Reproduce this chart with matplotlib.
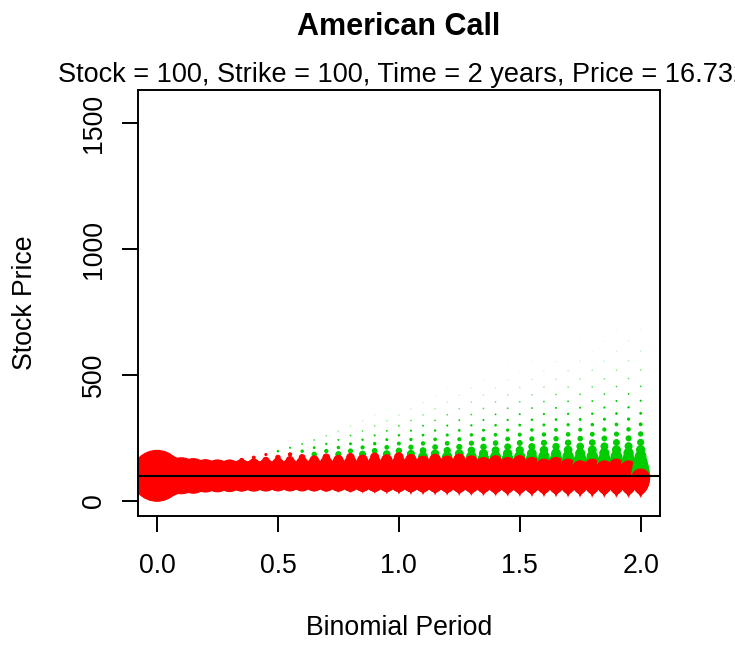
import numpy as np
from math import comb
import matplotlib
matplotlib.use("Agg")
import matplotlib.pyplot as plt

# ---- data (binomial tree inputs) ----
spot = 100.0
strike = 100.0
vol = 0.30
rate = 0.08
div_yield = 0.06
maturity = 2.0
n_steps = 40
x_ticks = [0.0, 0.5, 1.0, 1.5, 2.0]
x_tick_labels = ["0.0", "0.5", "1.0", "1.5", "2.0"]
y_ticks = [0, 500, 1000, 1500]
y_tick_labels = ["0", "500", "1000", "1500"]
title = "American Call"
subtitle = "Stock = 100, Strike = 100, Time = 2 years, Price = 16.732"
x_label = "Binomial Period"
y_label = "Stock Price"

# ---- binomial tree ----
h = maturity / n_steps
up = np.exp((rate - div_yield) * h + vol * np.sqrt(h))
dn = np.exp((rate - div_yield) * h - vol * np.sqrt(h))
pstar = (np.exp((rate - div_yield) * h) - dn) / (up - dn)
disc = np.exp(-rate * h)

stock = []
for i in range(n_steps + 1):
    j = np.arange(i + 1)
    stock.append(spot * up ** j * dn ** (i - j))

exer = [None] * (n_steps + 1)
val = np.maximum(stock[n_steps] - strike, 0.0)
exer[n_steps] = stock[n_steps] > strike
for i in range(n_steps - 1, -1, -1):
    hold = disc * (pstar * val[1:] + (1 - pstar) * val[:-1])
    ex = stock[i] - strike
    exer[i] = ex > hold
    val = np.maximum(hold, ex)

xs, ys, probs, cols = [], [], [], []
for i in range(n_steps + 1):
    for j in range(i, -1, -1):
        xs.append(i * h)
        ys.append(stock[i][j])
        probs.append(comb(i, j) * pstar ** j * (1 - pstar) ** (i - j))
        cols.append("#00CD00" if exer[i][j] else "#FF0000")
probs = np.array(probs)

# ---- figure ----
W, H = 735, 645
plt.rcParams["font.family"] = ["Liberation Sans", "DejaVu Sans"]
fig = plt.figure(figsize=(W / 100, H / 100), dpi=100)
L, R, T, B = 137.7, 660, 90, 516
ax = fig.add_axes([L / W, 1 - B / H, (R - L) / W, (B - T) / H])

ax.scatter(xs, ys, s=1340 * probs, c=cols, edgecolors=cols,
           linewidths=0.8, zorder=2)
ax.axhline(strike, color="black", lw=1.5, zorder=3)

ax.set_xlim(-0.08, 2.08)
ax.set_ylim(-59.6, 1632)
ax.set_xticks(x_ticks)
ax.set_xticklabels(x_tick_labels)
ax.set_yticks(y_ticks)
ax.set_yticklabels(y_tick_labels, rotation=90, va="center")
ax.tick_params(axis="both", direction="out", length=11.5, width=1.4,
               labelsize=19.2, color="black")
ax.tick_params(axis="x", pad=15)
ax.tick_params(axis="y", pad=10.5)
for sp in ax.spines.values():
    sp.set_linewidth(1.4)

cx = (L + R) / 2 / W
fig.text(cx, 1 - 35 / H, title, ha="center", va="baseline",
         fontsize=22, fontweight="bold")
fig.text((L + R) / 2 / W + 4 / W, 1 - 82 / H, subtitle, ha="center",
         va="baseline", fontsize=19.5)
fig.text(cx, 1 - 635 / H, x_label, ha="center", va="baseline", fontsize=19.2)
fig.text(38 / W, 1 - 303 / H, y_label, ha="right", va="center",
         rotation=90, fontsize=19.2)

fig.savefig("out.png", dpi=100)
